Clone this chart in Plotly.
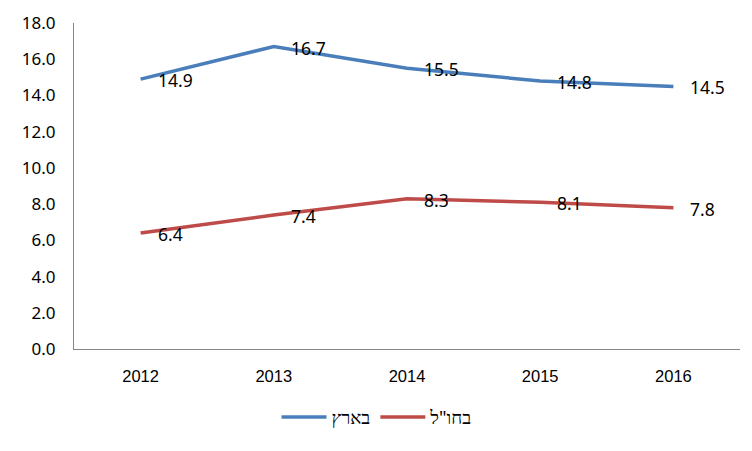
import plotly.graph_objects as go

years = ["2012", "2013", "2014", "2015", "2016"]
domestic = [14.9, 16.7, 15.5, 14.8, 14.5]
abroad = [6.4, 7.4, 8.3, 8.1, 7.8]
series_names = ["בארץ", 'בחו"ל']
y_ticks = [0, 2, 4, 6, 8, 10, 12, 14, 16, 18]

colors = ["#4A7EBB", "#BE4B48"]

fig = go.Figure()
annotations = []
for name, vals, col in zip(series_names, [domestic, abroad], colors):
    fig.add_trace(go.Scatter(x=years, y=vals, mode="lines", name=name,
                             line=dict(color=col, width=3.5)))
    for i, v in enumerate(vals):
        annotations.append(dict(x=i, y=v, xref="x", yref="y", text=f"{v:.1f}",
                                showarrow=False,
                                xanchor="left", yanchor="middle", xshift=15, yshift=-1,
                                font=dict(family="Noto Sans", size=17.5, color="#000000")))

fig.update_layout(
    width=752, height=451,
    margin=dict(l=74, r=12, t=23, b=102),
    paper_bgcolor="white", plot_bgcolor="white",
    showlegend=True,
    legend=dict(orientation="h", x=0.455, xanchor="center", y=-0.21, yanchor="middle",
                font=dict(family="Noto Sans", size=18.5, color="#000000"),
                itemwidth=45, tracegroupgap=0),
    annotations=annotations,
    xaxis=dict(type="category", range=[-0.5, 4.5], showgrid=False, zeroline=False,
               showline=True, linecolor="#868686", linewidth=1, ticks="",
               ticklabelstandoff=12,
               tickfont=dict(family="Liberation Sans", size=16.5, color="#000000")),
    yaxis=dict(range=[0, 18], tickvals=y_ticks, tickformat=".1f", showgrid=False,
               zeroline=False, showline=True, linecolor="#868686", linewidth=1,
               ticks="", ticklabelstandoff=14,
               tickfont=dict(family="Noto Sans", size=17, color="#000000")),
)

fig.write_html("out.html", config={"displayModeBar": False},
               post_script="document.body.style.margin='0';")
